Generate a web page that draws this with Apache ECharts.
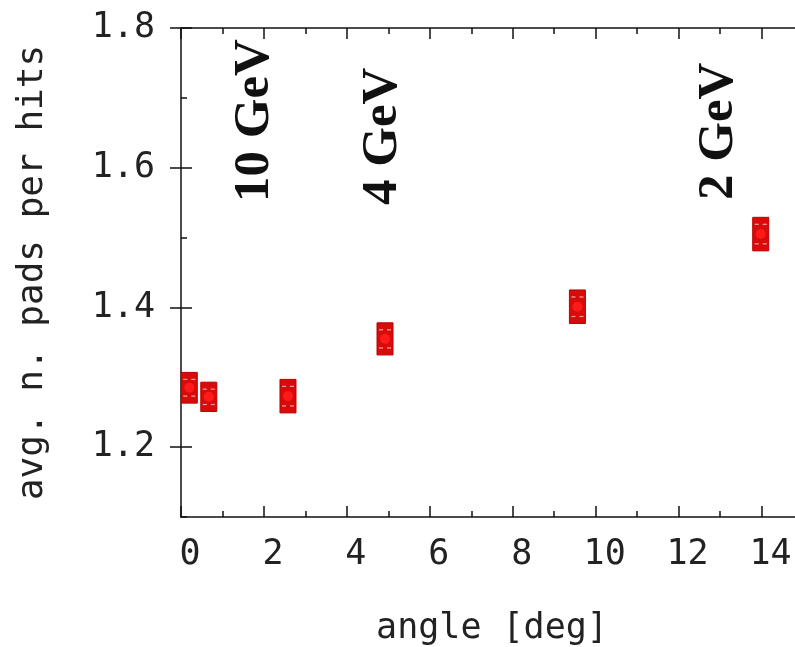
<!DOCTYPE html>
<html>
<head>
<meta charset="utf-8">
<script src="https://cdn.jsdelivr.net/npm/echarts@6/dist/echarts.min.js"></script>
<style>
html,body{margin:0;padding:0;background:#fff;}
#chart{width:795px;height:647px;}
</style>
</head>
<body>
<div id="chart"></div>
<script>
// ---- data ----
const angles = [0.2, 0.67, 2.58, 4.92, 9.56, 13.98];
const padsPerHit = [1.285, 1.272, 1.273, 1.355, 1.401, 1.505];
const padErrors = [0.022, 0.021, 0.024, 0.023, 0.024, 0.024];
const yMajorTicks = [1.2, 1.4, 1.6, 1.8];
const energyLabels = ['10 GeV', '4 GeV', '2 GeV'];
const xName = 'angle [deg]';
const yName = 'avg. n. pads per hits';

const chart = echarts.init(document.getElementById('chart'), null, {renderer: 'canvas'});
const monoFont = '"DejaVu Sans Mono", monospace';
const lineCol = '#111';

const seriesData = angles.map((a, i) => [a, padsPerHit[i], padErrors[i]]);

function xAxisCfg(pos, showLabels) {
  return {
    type: 'value', position: pos, min: 0, max: 15, interval: 2,
    axisLine: {show: true, lineStyle: {color: lineCol, width: 1.5}},
    axisTick: {show: true, inside: true, length: 11, lineStyle: {color: lineCol, width: 1.5}},
    minorTick: {show: true, splitNumber: 2, length: 6, lineStyle: {color: lineCol, width: 1.5}},
    splitLine: {show: false},
    axisLabel: {show: showLabels, showMaxLabel: false, margin: 20, color: '#222', fontFamily: monoFont, fontSize: 35, padding: [0, 0, 0, 18]},
    name: showLabels ? xName : '', nameLocation: 'middle', nameGap: 94,
    nameTextStyle: {color: '#222', fontFamily: monoFont, fontSize: 35}
  };
}
function yMinorCfg(pos, showLabels) {
  return {
    type: 'value', position: pos, min: 1.1, max: 1.8, interval: 0.1,
    axisLine: {show: true, onZero: false, lineStyle: {color: lineCol, width: 1.5}},
    axisTick: {show: true, inside: true, length: 6, lineStyle: {color: lineCol, width: 1.5}},
    splitLine: {show: false},
    axisLabel: {show: showLabels, margin: 26, color: '#222', fontFamily: monoFont, fontSize: 35,
      formatter: v => (Math.round(v * 10) % 2 === 0 ? v.toFixed(1) : '')},
    name: showLabels ? yName : '', nameLocation: 'middle', nameGap: 130,
    nameTextStyle: {color: '#222', fontFamily: monoFont, fontSize: 36}
  };
}
function yMajorCfg(pos) {
  return {
    type: 'value', position: pos, min: 1.1, max: 1.8,
    axisLine: {show: false},
    axisTick: {show: true, inside: true, length: 11, customValues: yMajorTicks, lineStyle: {color: lineCol, width: 1.5}},
    splitLine: {show: false},
    axisLabel: {show: false}
  };
}

const option = {
  backgroundColor: '#fff',
  animation: false,
  grid: {left: 181, top: 28, width: 622, height: 489, containLabel: false, outerBoundsMode: 'none'},
  xAxis: [xAxisCfg('bottom', true), xAxisCfg('top', false)],
  yAxis: [yMinorCfg('left', true), yMajorCfg('left'), yMinorCfg('right', false), yMajorCfg('right')],
  series: [{
    type: 'custom',
    xAxisIndex: 0, yAxisIndex: 0,
    data: seriesData,
    renderItem: function (params, api) {
      const x = api.value(0), y = api.value(1), e = api.value(2);
      const top = api.coord([x, y + e]);
      const bot = api.coord([x, y - e]);
      const c = api.coord([x, y]);
      const hw = 8;
      const h = bot[1] - top[1];
      return {
        type: 'group',
        children: [
          {type: 'rect', shape: {x: c[0] - hw, y: top[1], width: 2 * hw, height: h},
            style: {fill: '#d80a0a', stroke: '#bc0000', lineWidth: 1}},
          {type: 'line', shape: {x1: c[0] - hw + 2, y1: top[1] + 7, x2: c[0] - 2, y2: top[1] + 7},
            style: {stroke: '#f2a8a8', lineWidth: 1.2}},
          {type: 'line', shape: {x1: c[0] + 2, y1: top[1] + 7, x2: c[0] + hw - 2, y2: top[1] + 7},
            style: {stroke: '#f2a8a8', lineWidth: 1.2}},
          {type: 'line', shape: {x1: c[0] - hw + 2, y1: bot[1] - 7, x2: c[0] - 2, y2: bot[1] - 7},
            style: {stroke: '#f2a8a8', lineWidth: 1.2}},
          {type: 'line', shape: {x1: c[0] + 2, y1: bot[1] - 7, x2: c[0] + hw - 2, y2: bot[1] - 7},
            style: {stroke: '#f2a8a8', lineWidth: 1.2}},
          {type: 'circle', shape: {cx: c[0], cy: c[1], r: 5}, style: {fill: '#ff1a1a'}}
        ]
      };
    }
  }],
  graphic: [
    {type: 'text', x: 255, y: 202, rotation: Math.PI / 2,
      style: {text: energyLabels[0], font: 'bold 51px "Liberation Serif", "DejaVu Serif", serif', fill: '#111', align: 'left', verticalAlign: 'middle'}},
    {type: 'text', x: 383, y: 205, rotation: Math.PI / 2,
      style: {text: energyLabels[1], font: 'bold 51px "Liberation Serif", "DejaVu Serif", serif', fill: '#111', align: 'left', verticalAlign: 'middle'}},
    {type: 'text', x: 719, y: 200, rotation: Math.PI / 2,
      style: {text: energyLabels[2], font: 'bold 51px "Liberation Serif", "DejaVu Serif", serif', fill: '#111', align: 'left', verticalAlign: 'middle'}}
  ]
};
chart.setOption(option);
</script>
</body>
</html>
